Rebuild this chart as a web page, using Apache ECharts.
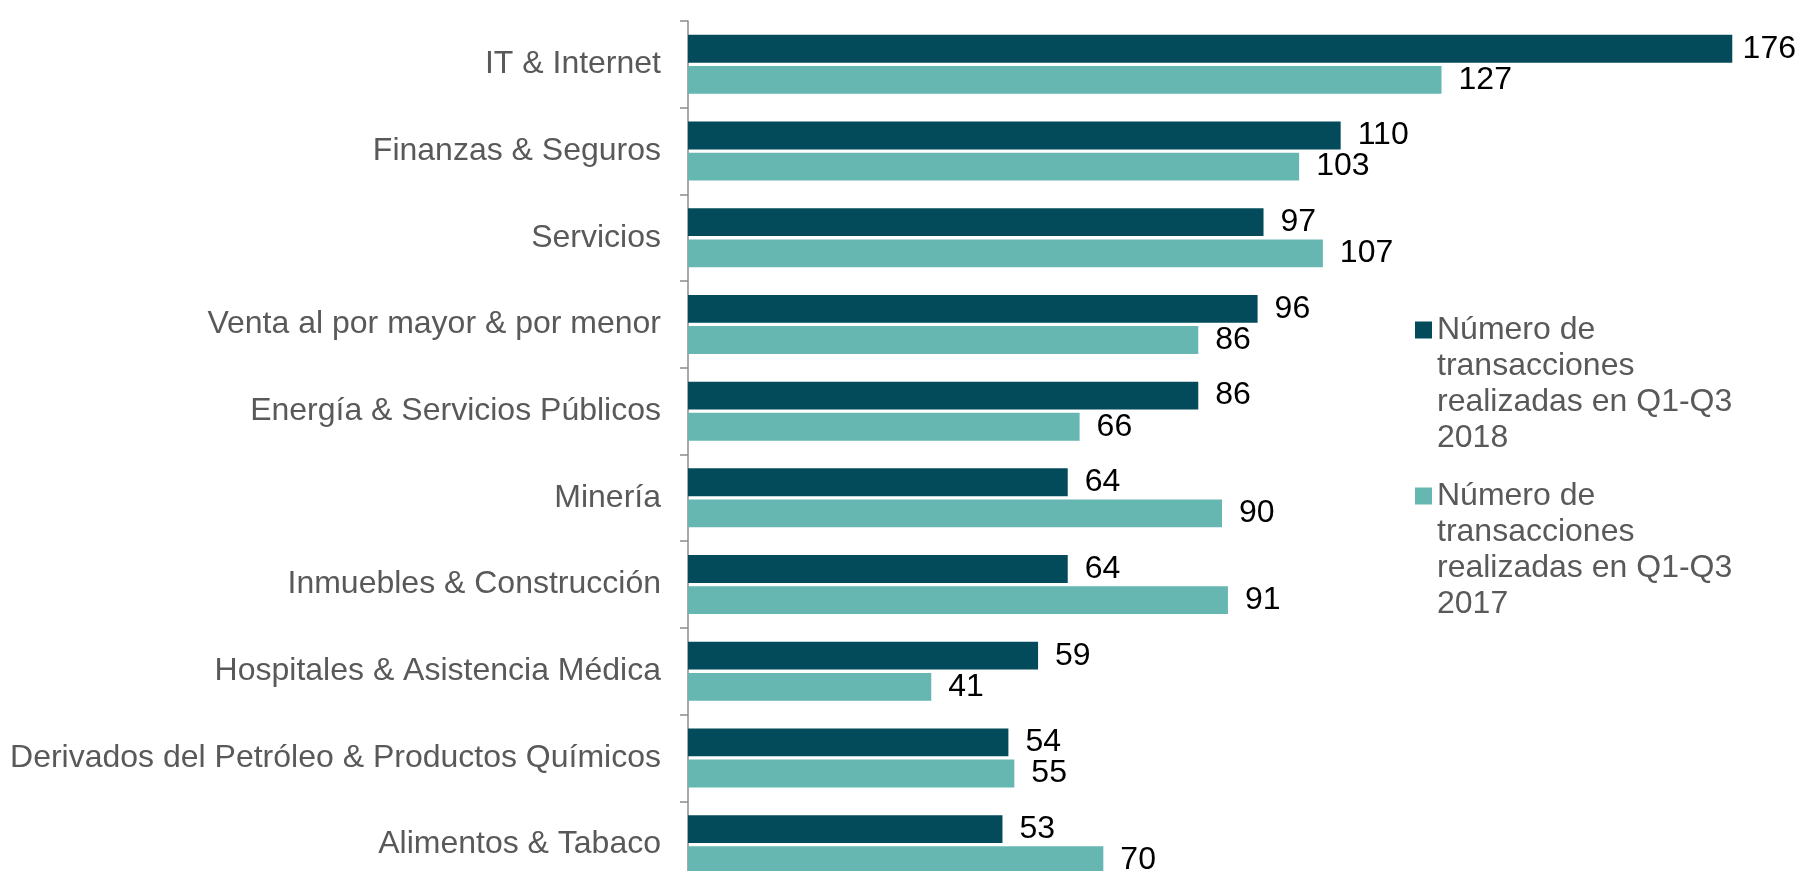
<!DOCTYPE html>
<html>
<head>
  <meta charset="utf-8" />
  <title>ECharts</title>
  <script src="https://cdn.jsdelivr.net/npm/echarts@6/dist/echarts.min.js"></script>
  <style>
    html, body { margin: 0; padding: 0; background: #fff; }
  </style>
</head>
<body>
<div id="main" style="width: 1798px;height:871px;"></div>
<script type="text/javascript">
  // datos
  var categorias = [
    'IT & Internet',
    'Finanzas & Seguros',
    'Servicios',
    'Venta al por mayor & por menor',
    'Energía & Servicios Públicos',
    'Minería',
    'Inmuebles & Construcción',
    'Hospitales & Asistencia Médica',
    'Derivados del Petróleo & Productos Químicos',
    'Alimentos & Tabaco'
  ];
  var valores2018 = [176, 110, 97, 96, 86, 64, 64, 59, 54, 53];
  var valores2017 = [127, 103, 107, 86, 66, 90, 91, 41, 55, 70];
  var nombre2018 = 'Número de transacciones realizadas en Q1-Q3 2018';
  var nombre2017 = 'Número de transacciones realizadas en Q1-Q3 2017';
  var leyenda = {};
  leyenda[nombre2018] = 'Número de\ntransacciones\nrealizadas en Q1-Q3\n2018';
  leyenda[nombre2017] = 'Número de\ntransacciones\nrealizadas en Q1-Q3\n2017';

  var fuente = '"Liberation Sans", Arial, sans-serif';
  var myChart = echarts.init(document.getElementById('main'));
  var option;

  // etiquetas que se salen por la derecha se empujan hacia dentro
  function ajustarEtiqueta(params) {
    var w = myChart.getWidth();
    var r = params.labelRect;
    if (r.x + r.width > w - 2) {
      return {
        x: w - 2 - r.width,
        y: r.y + r.height / 2,
        align: 'left',
        verticalAlign: 'middle'
      };
    }
  }

  option = {
    animation: false,
    textStyle: { fontFamily: fuente },
    grid: {
      left: 688,
      top: 21,
      width: 1068,
      height: 867,
      outerBoundsMode: 'none'
    },
    legend: {
      orient: 'vertical',
      left: 1415,
      top: 204,
      padding: 0,
      itemGap: -86,
      itemWidth: 17,
      itemHeight: 17,
      icon: 'rect',
      data: [nombre2018, nombre2017],
      // lineas vacias arriba: el cuadro queda alineado con la primera linea
      formatter: function (name) { return '\n\n\n' + leyenda[name]; },
      textStyle: {
        fontFamily: fuente,
        fontSize: 32,
        lineHeight: 36,
        color: '#595959'
      }
    },
    xAxis: {
      type: 'value',
      min: 0,
      max: 180,
      show: false,
      splitLine: { show: false }
    },
    yAxis: {
      type: 'category',
      inverse: true,
      data: categorias,
      axisLine: { show: true, lineStyle: { color: '#8c8c8c', width: 1.5 } },
      axisTick: { show: true, length: 8, interval: 0, lineStyle: { color: '#8c8c8c', width: 1.5 } },
      axisLabel: {
        margin: 27,
        interval: 0,
        fontFamily: fuente,
        fontSize: 32,
        color: '#595959'
      }
    },
    series: [
      {
        name: nombre2018,
        type: 'bar',
        data: valores2018,
        barCategoryGap: '32%',
        barGap: '12%',
        itemStyle: { color: '#034b5a' },
        labelLayout: ajustarEtiqueta,
        label: {
          show: true,
          position: 'right',
          distance: 17,
          fontFamily: fuente,
          fontSize: 32,
          color: '#000'
        }
      },
      {
        name: nombre2017,
        type: 'bar',
        data: valores2017,
        barCategoryGap: '32%',
        barGap: '12%',
        itemStyle: { color: '#66b7b2' },
        labelLayout: ajustarEtiqueta,
        label: {
          show: true,
          position: 'right',
          distance: 17,
          fontFamily: fuente,
          fontSize: 32,
          color: '#000'
        }
      }
    ]
  };

  option && myChart.setOption(option);
</script>
</body>
</html>
